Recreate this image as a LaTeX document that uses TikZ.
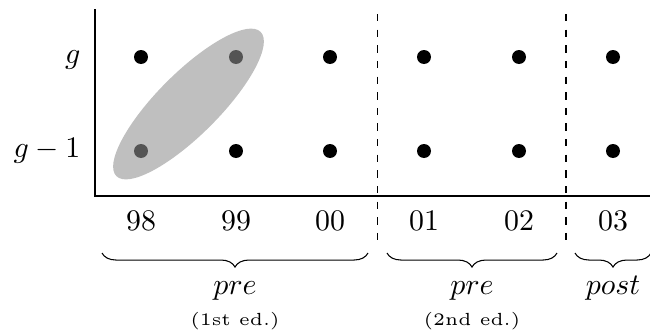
\documentclass[tikz,border=0pt]{standalone}
\usetikzlibrary{shapes.geometric,decorations.pathreplacing}
\begin{document}
\begin{tikzpicture}[x=0.02cm,y=-0.02cm,
  dot/.style={circle,fill=black,minimum size=0.28cm,inner sep=0pt},
  indot/.style={dot,fill=black!67},
  txt/.style={scale=1.7,inner sep=0pt},
  edlbl/.style={scale=2.0,inner sep=0pt,font=\tiny,anchor=base},
  axisline/.style={line width=1.5pt},
  sepline/.style={dash pattern=on 4.2pt off 4.7pt},
  brc/.style={decorate,decoration={brace,mirror,amplitude=8pt},line width=0.6pt}]
\useasboundingbox (0,0) rectangle (650,335);
% grouping ellipse
\node[ellipse,fill=black!25,minimum width=4.08cm,minimum height=1.24cm,inner sep=0pt,rotate=45] (grp) at (188.5,104) {};
% dots
\node[dot] (a1) at (141,57) {};
\node[indot] (b1) at (141,151) {};
\node[indot] (a2) at (236,57) {};
\node[dot] (b2) at (236,151) {};
\node[dot] (a3) at (330,57) {};
\node[dot] (b3) at (330,151) {};
\node[dot] (a4) at (424,57) {};
\node[dot] (b4) at (424,151) {};
\node[dot] (a5) at (519,57) {};
\node[dot] (b5) at (519,151) {};
\node[dot] (a6) at (613,57) {};
\node[dot] (b6) at (613,151) {};
% axes
\coordinate (ytop) at (95,9);
\coordinate (orig) at (95,196);
\coordinate (xend) at (650,196);
\draw[axisline] (ytop) -- (orig) -- (xend);
% separators
\coordinate (s1t) at (377.5,14);
\coordinate (s1b) at (377.5,248);
\coordinate (s2t) at (566,14);
\coordinate (s2b) at (566,248);
\draw[sepline,line width=0.5pt] (s1t) -- (s1b);
\draw[sepline,line width=1.2pt] (s2t) -- (s2b);
% row labels
\node[txt,anchor=mid east] (lg) at (81,57) {$g$};
\node[txt,anchor=mid east] (lg1) at (81,151) {$g-1$};
% year labels
\node[txt,anchor=base] (y98) at (141,230) {98};
\node[txt,anchor=base] (y99) at (236,230) {99};
\node[txt,anchor=base] (y00) at (330,230) {00};
\node[txt,anchor=base] (y01) at (424,230) {01};
\node[txt,anchor=base] (y02) at (519,230) {02};
\node[txt,anchor=base] (y03) at (613,230) {03};
% braces
\coordinate (b1l) at (102,253);
\coordinate (b1r) at (368,253);
\coordinate (b2l) at (387,253);
\coordinate (b2r) at (557,253);
\coordinate (b3l) at (575,253);
\coordinate (b3r) at (651,253);
\draw[brc] (b1l) -- (b1r);
\draw[brc] (b2l) -- (b2r);
\draw[brc] (b3l) -- (b3r);
% phase labels
\node[txt,anchor=base] (p1) at (235,294) {$pre$};
\node[txt,anchor=base] (p2) at (472,294) {$pre$};
\node[txt,anchor=base] (p3) at (613,294) {$post$};
\node[edlbl] (e1) at (235,325) {(1st ed.)};
\node[edlbl] (e2) at (472,325) {(2nd ed.)};
\end{tikzpicture}
\end{document}
